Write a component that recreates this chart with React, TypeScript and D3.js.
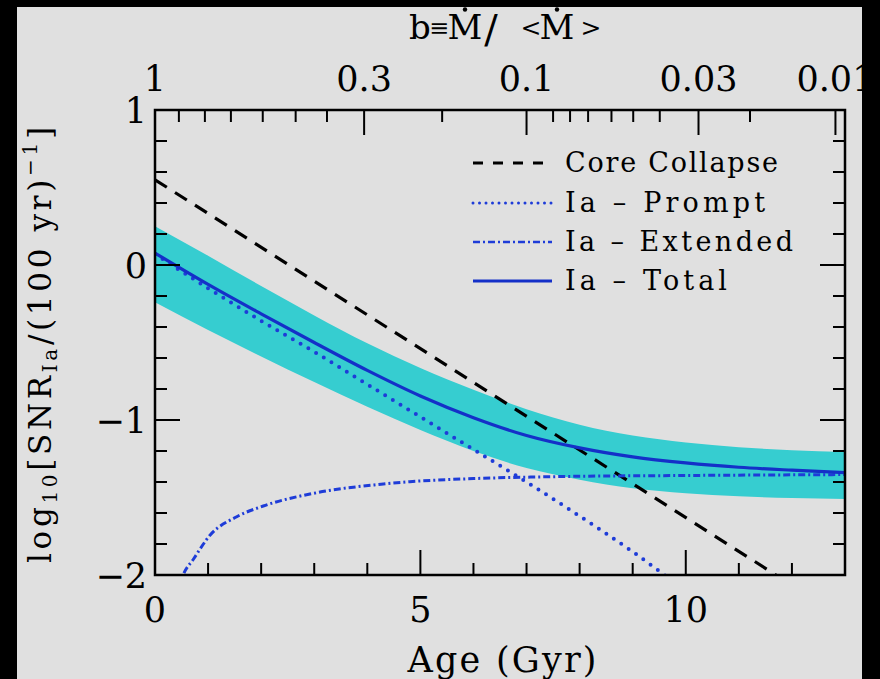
import React from "react";
import * as d3 from "d3";

// ---- data ----
const gridAges = [0, 1, 2, 3, 4, 5, 6, 7, 8, 9, 10, 11, 12, 13];
const totalRate = [0.077, -0.125, -0.315, -0.5, -0.68, -0.845, -0.985, -1.1, -1.18, -1.238, -1.277, -1.305, -1.324, -1.34];
const bandUpper = [0.25, 0.06, -0.135, -0.325, -0.505, -0.665, -0.805, -0.93, -1.03, -1.1, -1.145, -1.175, -1.195, -1.206];
const bandLower = [-0.24, -0.42, -0.59, -0.755, -0.915, -1.065, -1.2, -1.31, -1.385, -1.44, -1.472, -1.492, -1.503, -1.51];

const promptAges = [0, 1, 2, 3, 4, 5, 6, 7, 8, 9, 9.6, 10];
const promptRate = [0.07, -0.15, -0.36, -0.56, -0.77, -0.98, -1.19, -1.4, -1.62, -1.85, -2.0, -2.1];

const extendedAges = [0.45, 0.53, 0.72, 1.04, 1.54, 2.04, 3.05, 4.3, 4.8, 6, 7.63, 10, 13];
const extendedRate = [-2.08, -2.0, -1.9, -1.742, -1.624, -1.555, -1.469, -1.413, -1.398, -1.378, -1.365, -1.358, -1.352];

const ccAges = [0, 11.7];
const ccRate = [0.55, -2.0];

const xMajorTicks = [0, 5, 10];
const xMajorLabels = ["0", "5", "10"];
const xMinorTicks = [1, 2, 3, 4, 6, 7, 8, 9, 11, 12];
const yMajorTicks = [-2, -1, 0, 1];
const yMajorLabels = ["\u22122", "\u22121", "0", "1"];
const yMinorTicks = [-1.8, -1.6, -1.4, -1.2, -0.8, -0.6, -0.4, -0.2, 0.2, 0.4, 0.6, 0.8];

const topTickB = [1, 0.9, 0.8, 0.7, 0.6, 0.5, 0.4, 0.3, 0.2, 0.1, 0.09, 0.08, 0.07, 0.06, 0.05, 0.04, 0.03, 0.02, 0.01];
const topTickAge = [0, 0.45, 0.94, 1.43, 2.03, 2.65, 3.24, 3.94, 5.41, 7.0, 7.5, 7.82, 8.16, 8.6, 9.01, 9.51, 10.24, 11.21, 12.82];
const topMajorB = [1, 0.3, 0.1, 0.03, 0.01];
const topMajorLabels = ["1", "0.3", "0.1", "0.03", "0.01"];

const legendLabels = ["Core Collapse", "Ia \u2013 Prompt", "Ia \u2013 Extended", "Ia \u2013 Total"];
const legendWidths = [213, 200, 228, 162];

// ---- layout ----
const W = 880;
const H = 679;
const L = 155, R = 845, T = 110, B = 575;
const FONT = "'DejaVu Serif', serif";
const BLUE = "#1430c8";
const BLUE2 = "#1e3cd8";
const BAND = "#36cdd0";
const MAJ = 25, MIN = 12;

export default function App() {
  const x = d3.scaleLinear().domain([0, 13]).range([L, R]);
  const y = d3.scaleLinear().domain([-2, 1]).range([B, T]);
  const bScale = d3.scaleLog().domain(topTickB).range(topTickAge.map((a) => x(a)));

  const line = (xs: number[], ys: number[]) =>
    d3.line<number>().x((_, i) => x(xs[i])).y((v) => y(v)).curve(d3.curveMonotoneX)(ys) || "";

  const band =
    d3
      .area<number>()
      .x((_, i) => x(gridAges[i]))
      .y0((_, i) => y(bandLower[i]))
      .y1((v) => y(v))
      .curve(d3.curveMonotoneX)(bandUpper) || "";

  const legendY = [172, 212, 251, 290];
  const styles = [
    { stroke: "#000", dash: "10,10", w: 3, cap: "butt" },
    { stroke: BLUE2, dash: "0,6.5", w: 3, cap: "round" },
    { stroke: BLUE2, dash: "7,3,2,3", w: 2.5, cap: "butt" },
    { stroke: BLUE, dash: "", w: 3, cap: "butt" },
  ];

  return (
    <svg
      width={W}
      height={H}
      style={{ position: "fixed", left: 0, top: 0, display: "block" }}
      fontFamily={FONT}
    >
      <defs>
        <clipPath id="plot">
          <rect x={L} y={T} width={R - L} height={B - T} />
        </clipPath>
      </defs>
      <rect x={0} y={0} width={W} height={H} fill="#e0e0e0" />

      <g clipPath="url(#plot)">
        <path d={band} fill={BAND} stroke="none" />
        <path d={line(ccAges, ccRate)} fill="none" stroke="#000" strokeWidth={3.2} strokeDasharray="14,9.7" />
        <path
          d={line(promptAges, promptRate)}
          fill="none"
          stroke={BLUE2}
          strokeWidth={4}
          strokeDasharray="0,9"
          strokeLinecap="round"
        />
        <path
          d={line(extendedAges, extendedRate)}
          fill="none"
          stroke={BLUE2}
          strokeWidth={3}
          strokeDasharray="7,3,2,3"
        />
        <path d={line(gridAges, totalRate)} fill="none" stroke={BLUE} strokeWidth={3.2} />
      </g>

      {/* frame */}
      <rect x={L} y={T} width={R - L} height={B - T} fill="none" stroke="#000" strokeWidth={2.5} />

      {/* ticks */}
      <g stroke="#000" strokeWidth={2}>
        {xMajorTicks.map((t) => (
          <line key={"xM" + t} x1={x(t)} x2={x(t)} y1={B} y2={B - MAJ} />
        ))}
        {xMinorTicks.map((t) => (
          <line key={"xm" + t} x1={x(t)} x2={x(t)} y1={B} y2={B - MIN} />
        ))}
        {yMajorTicks.map((t) => (
          <g key={"yM" + t}>
            <line x1={L} x2={L + MAJ} y1={y(t)} y2={y(t)} />
            <line x1={R} x2={R - MAJ} y1={y(t)} y2={y(t)} />
          </g>
        ))}
        {yMinorTicks.map((t) => (
          <g key={"ym" + t}>
            <line x1={L} x2={L + MIN} y1={y(t)} y2={y(t)} />
            <line x1={R} x2={R - MIN} y1={y(t)} y2={y(t)} />
          </g>
        ))}
        {topTickB.map((b) => (
          <line
            key={"tb" + b}
            x1={bScale(b)}
            x2={bScale(b)}
            y1={T}
            y2={T + (topMajorB.includes(b) ? MAJ : MIN)}
          />
        ))}
      </g>

      {/* tick labels */}
      <g fontSize={35} fill="#000">
        {xMajorTicks.map((t, i) => (
          <text key={"xl" + t} x={x(t)} y={622} textAnchor="middle">
            {xMajorLabels[i]}
          </text>
        ))}
        {yMajorTicks.map((t, i) => (
          <text key={"yl" + t} x={147} y={y(t) + 13} textAnchor="end">
            {yMajorLabels[i]}
          </text>
        ))}
        {topMajorB.map((b, i) => (
          <text key={"tl" + b} x={bScale(b)} y={91} textAnchor="middle">
            {topMajorLabels[i]}
          </text>
        ))}
      </g>

      {/* axis titles */}
      <text x={502} y={672} fontSize={35} textAnchor="middle" textLength={189} lengthAdjust="spacing">
        Age (Gyr)
      </text>

      <g textAnchor="middle">
        <text x={420} y={39} fontSize={34}>b</text>
        <text x={439} y={36} fontSize={24}>≡</text>
        <text x={465} y={39} fontSize={34}>M</text>
        <circle cx={465} cy={9.5} r={2.2} fill="#000" />
        <text x={491} y={43} fontSize={40}>/</text>
        <text x={531} y={36} fontSize={25}>&lt;</text>
        <text x={557} y={39} fontSize={34}>M</text>
        <circle cx={557} cy={9.5} r={2.2} fill="#000" />
        <text x={591} y={36} fontSize={25}>&gt;</text>
      </g>

      <text
        transform="translate(51,345) rotate(-90)"
        fontSize={31}
        textAnchor="middle"
        textLength={436}
        lengthAdjust="spacing"
      >
        log
        <tspan fontSize={20} dy={6}>10</tspan>
        <tspan dy={-6}>[SNR</tspan>
        <tspan fontSize={20} dy={6}>Ia</tspan>
        <tspan dy={-6}>/(100 yr)</tspan>
        <tspan fontSize={20} dy={-14}>{"\u22121"}</tspan>
        <tspan dy={14}>]</tspan>
      </text>

      {/* legend */}
      {legendLabels.map((lab, i) => (
        <g key={lab}>
          <line
            x1={473}
            x2={552}
            y1={legendY[i] - 9}
            y2={legendY[i] - 9}
            stroke={styles[i].stroke}
            strokeWidth={styles[i].w}
            strokeDasharray={styles[i].dash || undefined}
            strokeLinecap={styles[i].cap as any}
          />
          <text x={565} y={legendY[i]} fontSize={27} textLength={legendWidths[i]} lengthAdjust="spacing">
            {lab}
          </text>
        </g>
      ))}

      {/* black borders */}
      <rect x={0} y={0} width={17} height={H} fill="#000" />
      <rect x={0} y={0} width={W} height={7} fill="#000" />
      <rect x={862} y={0} width={W - 862} height={H} fill="#000" />
    </svg>
  );
}
